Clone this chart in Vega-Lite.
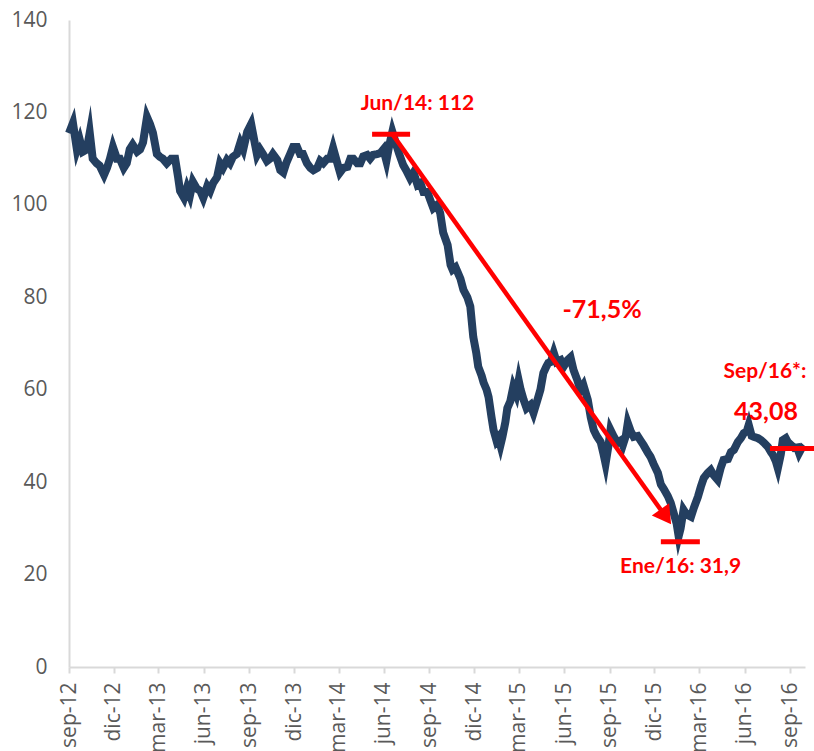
{
  "$schema": "https://vega.github.io/schema/vega-lite/v6.json",
  "width": 736,
  "height": 647,
  "autosize": {"type": "none"},
  "padding": {"left": 69, "top": 20, "right": 9, "bottom": 84},
  "background": "white",
  "config": {"view": {"stroke": null}, "font": "Open Sans"},
  "datasets": {
    "price": [
      {"date":"2012-09-01","v":115.5},{"date":"2012-09-09","v":117.7},{"date":"2012-09-17","v":112},{"date":"2012-09-23","v":114},{"date":"2012-09-29","v":111.5},
      {"date":"2012-10-07","v":112},{"date":"2012-10-13","v":115.6},{"date":"2012-10-19","v":110},{"date":"2012-10-27","v":109},{"date":"2012-11-02","v":108.5},
      {"date":"2012-11-11","v":106.5},{"date":"2012-11-17","v":108},{"date":"2012-11-23","v":110},{"date":"2012-11-29","v":112.5},{"date":"2012-12-07","v":110},
      {"date":"2012-12-13","v":110},{"date":"2012-12-21","v":108},{"date":"2012-12-27","v":109},{"date":"2013-01-02","v":112},{"date":"2013-01-08","v":113},
      {"date":"2013-01-17","v":111.5},{"date":"2013-01-23","v":112},{"date":"2013-01-29","v":113.5},{"date":"2013-02-06","v":119},{"date":"2013-02-12","v":117.5},
      {"date":"2013-02-18","v":115.6},{"date":"2013-02-26","v":111},{"date":"2013-03-04","v":110.4},{"date":"2013-03-10","v":110},{"date":"2013-03-18","v":109},
      {"date":"2013-03-27","v":110},{"date":"2013-04-04","v":110},{"date":"2013-04-10","v":106},{"date":"2013-04-14","v":103},{"date":"2013-04-22","v":101.5},
      {"date":"2013-04-28","v":103.7},{"date":"2013-05-04","v":102},{"date":"2013-05-10","v":105},{"date":"2013-05-18","v":103.5},{"date":"2013-05-25","v":103},
      {"date":"2013-05-31","v":101.5},{"date":"2013-06-08","v":104},{"date":"2013-06-14","v":103},{"date":"2013-06-20","v":104.7},{"date":"2013-06-28","v":106},
      {"date":"2013-07-04","v":109},{"date":"2013-07-10","v":108},{"date":"2013-07-18","v":109.7},{"date":"2013-07-24","v":109},{"date":"2013-07-30","v":110.4},
      {"date":"2013-08-07","v":111},{"date":"2013-08-14","v":113.4},{"date":"2013-08-20","v":112},{"date":"2013-08-28","v":115.8},{"date":"2013-09-05","v":117.5},
      {"date":"2013-09-13","v":113},{"date":"2013-09-17","v":110.8},{"date":"2013-09-23","v":112},{"date":"2013-09-29","v":111},{"date":"2013-10-07","v":109.5},
      {"date":"2013-10-13","v":110},{"date":"2013-10-19","v":111},{"date":"2013-10-28","v":109.7},{"date":"2013-11-03","v":107.5},{"date":"2013-11-09","v":107},
      {"date":"2013-11-15","v":109},{"date":"2013-11-23","v":111},{"date":"2013-11-29","v":112.5},{"date":"2013-12-07","v":112.5},{"date":"2013-12-13","v":111},
      {"date":"2013-12-19","v":111},{"date":"2013-12-27","v":109},{"date":"2014-01-03","v":108},{"date":"2014-01-09","v":107.5},{"date":"2014-01-17","v":108},
      {"date":"2014-01-23","v":109.5},{"date":"2014-01-29","v":109},{"date":"2014-02-06","v":110},{"date":"2014-02-12","v":110},{"date":"2014-02-18","v":112.3},
      {"date":"2014-02-24","v":110},{"date":"2014-03-04","v":107},{"date":"2014-03-11","v":108},{"date":"2014-03-19","v":108.2},{"date":"2014-03-25","v":110},
      {"date":"2014-03-31","v":110},{"date":"2014-04-08","v":109},{"date":"2014-04-14","v":109},{"date":"2014-04-20","v":110.5},{"date":"2014-04-28","v":110.8},
      {"date":"2014-05-04","v":110},{"date":"2014-05-10","v":110.8},{"date":"2014-05-18","v":111},{"date":"2014-05-25","v":111.2},{"date":"2014-05-31","v":112},
      {"date":"2014-06-06","v":109.5},{"date":"2014-06-12","v":113},{"date":"2014-06-18","v":115.8},{"date":"2014-06-26","v":113},{"date":"2014-07-02","v":111},
      {"date":"2014-07-10","v":108.6},{"date":"2014-07-16","v":107.5},{"date":"2014-07-24","v":105.8},{"date":"2014-07-31","v":107},{"date":"2014-08-08","v":104.3},
      {"date":"2014-08-14","v":104.7},{"date":"2014-08-20","v":102.8},{"date":"2014-08-28","v":102.8},{"date":"2014-09-03","v":101},{"date":"2014-09-09","v":99.3},
      {"date":"2014-09-17","v":100},{"date":"2014-09-23","v":98.2},{"date":"2014-09-29","v":94},{"date":"2014-10-08","v":91.3},{"date":"2014-10-14","v":87},
      {"date":"2014-10-18","v":86},{"date":"2014-10-24","v":86.5},{"date":"2014-10-28","v":85.5},{"date":"2014-11-03","v":84},{"date":"2014-11-09","v":81.6},
      {"date":"2014-11-17","v":80},{"date":"2014-11-23","v":78},{"date":"2014-11-29","v":71.4},{"date":"2014-12-05","v":68},{"date":"2014-12-09","v":65},
      {"date":"2014-12-16","v":63},{"date":"2014-12-20","v":61.5},{"date":"2014-12-26","v":60},{"date":"2014-12-30","v":58.4},{"date":"2015-01-05","v":54},
      {"date":"2015-01-09","v":51.3},{"date":"2015-01-15","v":49},{"date":"2015-01-19","v":49.6},{"date":"2015-01-23","v":48},{"date":"2015-01-27","v":49.8},
      {"date":"2015-02-02","v":53},{"date":"2015-02-06","v":56},{"date":"2015-02-12","v":57.5},{"date":"2015-02-18","v":60.6},{"date":"2015-02-24","v":59},
      {"date":"2015-03-01","v":62},{"date":"2015-03-05","v":60},{"date":"2015-03-11","v":57.8},{"date":"2015-03-17","v":56},{"date":"2015-03-25","v":56.7},
      {"date":"2015-03-31","v":55},{"date":"2015-04-08","v":57.8},{"date":"2015-04-14","v":60},{"date":"2015-04-20","v":63.6},{"date":"2015-04-26","v":65},
      {"date":"2015-04-30","v":65.8},{"date":"2015-05-05","v":66},{"date":"2015-05-11","v":68},{"date":"2015-05-17","v":66},{"date":"2015-05-25","v":66.4},
      {"date":"2015-05-31","v":65},{"date":"2015-06-08","v":66.4},{"date":"2015-06-14","v":67},{"date":"2015-06-20","v":64.3},{"date":"2015-06-28","v":62},
      {"date":"2015-07-04","v":60},{"date":"2015-07-10","v":61},{"date":"2015-07-19","v":57.8},{"date":"2015-07-25","v":54},{"date":"2015-07-31","v":51.3},
      {"date":"2015-08-06","v":50},{"date":"2015-08-14","v":48.7},{"date":"2015-08-20","v":46},{"date":"2015-08-24","v":44},{"date":"2015-08-30","v":48},
      {"date":"2015-09-03","v":51.3},{"date":"2015-09-09","v":50},{"date":"2015-09-17","v":48.5},{"date":"2015-09-24","v":49},{"date":"2015-09-28","v":48},
      {"date":"2015-10-04","v":50},{"date":"2015-10-08","v":52.8},{"date":"2015-10-14","v":51},{"date":"2015-10-20","v":49.8},{"date":"2015-10-28","v":50},
      {"date":"2015-11-03","v":49},{"date":"2015-11-09","v":48},{"date":"2015-11-17","v":46.5},{"date":"2015-11-23","v":45.5},{"date":"2015-11-29","v":44},
      {"date":"2015-12-08","v":42},{"date":"2015-12-14","v":39.5},{"date":"2015-12-20","v":38.5},{"date":"2015-12-28","v":37},{"date":"2016-01-03","v":35.5},
      {"date":"2016-01-09","v":33.3},{"date":"2016-01-15","v":31},{"date":"2016-01-19","v":28.3},{"date":"2016-01-23","v":30},{"date":"2016-01-29","v":34},
      {"date":"2016-02-04","v":33},{"date":"2016-02-13","v":32.5},{"date":"2016-02-19","v":34.5},{"date":"2016-02-27","v":36.8},{"date":"2016-03-04","v":39},
      {"date":"2016-03-10","v":40.9},{"date":"2016-03-18","v":42},{"date":"2016-03-24","v":42.6},{"date":"2016-03-30","v":41.5},{"date":"2016-04-07","v":40.5},
      {"date":"2016-04-13","v":43},{"date":"2016-04-19","v":44.8},{"date":"2016-04-28","v":45},{"date":"2016-05-04","v":46.5},{"date":"2016-05-10","v":47},
      {"date":"2016-05-18","v":48.7},{"date":"2016-05-24","v":49.5},{"date":"2016-05-30","v":50.6},{"date":"2016-06-05","v":51},{"date":"2016-06-09","v":52.4},
      {"date":"2016-06-15","v":50},{"date":"2016-06-19","v":49.8},{"date":"2016-06-28","v":49.5},{"date":"2016-07-04","v":49.1},{"date":"2016-07-10","v":48.5},
      {"date":"2016-07-18","v":47.6},{"date":"2016-07-24","v":46.5},{"date":"2016-07-28","v":45.9},{"date":"2016-08-03","v":44.5},{"date":"2016-08-07","v":43},
      {"date":"2016-08-13","v":46},{"date":"2016-08-17","v":49.1},{"date":"2016-08-23","v":49.5},{"date":"2016-08-27","v":48.7},{"date":"2016-09-03","v":48},
      {"date":"2016-09-09","v":47.4},{"date":"2016-09-15","v":47.5},{"date":"2016-09-19","v":46.3},{"date":"2016-09-25","v":47.5},{"date":"2016-09-29","v":48}
    ],
    "segs": [
      {"d1":"2014-05-08","d2":"2014-07-24","v":115.3},
      {"d1":"2015-12-14","d2":"2016-03-02","v":27.1},
      {"d1":"2016-07-22","d2":"2016-10-21","v":47.3}
    ],
    "arrow": [
      {"d1":"2014-06-18","v1":115.3,"d2":"2015-12-24","v2":32.5}
    ],
    "head": [
      {"date":"2015-12-24","v":32.5}
    ],
    "labelsSmall": [
      {"date":"2014-08-08","v":121.8,"t":"Jun/14: 112"},
      {"date":"2016-01-23","v":21.6,"t":"Ene/16: 31,9"},
      {"date":"2016-07-12","v":63.8,"t":"Sep/16*:"}
    ],
    "labelsBig": [
      {"date":"2015-08-17","v":77.3,"t":"-71,5%"},
      {"date":"2016-07-14","v":55.2,"t":"43,08"}
    ]
  },
  "layer": [
    {
      "data": {"name": "price"},
      "mark": {"type": "line", "color": "#243f60", "strokeWidth": 8, "strokeJoin": "miter", "strokeMiterLimit": 8},
      "encoding": {
        "x": {
          "field": "date", "type": "temporal", "title": null,
          "scale": {"type": "utc", "domain": [1346457600000, 1475280000000]},
          "axis": {
            "title": null, "grid": false,
            "values": [
              {"year":2012,"month":9,"date":1,"utc":true},{"year":2012,"month":12,"date":1,"utc":true},
              {"year":2013,"month":3,"date":1,"utc":true},{"year":2013,"month":6,"date":1,"utc":true},
              {"year":2013,"month":9,"date":1,"utc":true},{"year":2013,"month":12,"date":1,"utc":true},
              {"year":2014,"month":3,"date":1,"utc":true},{"year":2014,"month":6,"date":1,"utc":true},
              {"year":2014,"month":9,"date":1,"utc":true},{"year":2014,"month":12,"date":1,"utc":true},
              {"year":2015,"month":3,"date":1,"utc":true},{"year":2015,"month":6,"date":1,"utc":true},
              {"year":2015,"month":9,"date":1,"utc":true},{"year":2015,"month":12,"date":1,"utc":true},
              {"year":2016,"month":3,"date":1,"utc":true},{"year":2016,"month":6,"date":1,"utc":true},
              {"year":2016,"month":9,"date":1,"utc":true}
            ],
            "labelExpr": "['ene','feb','mar','abr','may','jun','jul','ago','sep','oct','nov','dic'][utcmonth(datum.value)] + '-' + utcFormat(datum.value, '%y')",
            "labelAngle": -90, "labelPadding": 9, "labelFont": "Open Sans", "labelFontSize": 21, "labelColor": "#595959",
            "labelOverlap": false, "labelFlush": false, "labelBound": false,
            "domainColor": "#d9d9d9", "domainWidth": 2, "tickColor": "#d9d9d9", "tickWidth": 2, "tickSize": 6
          }
        },
        "y": {
          "field": "v", "type": "quantitative", "title": null,
          "scale": {"domain": [0, 140], "nice": false},
          "axis": {
            "title": null, "grid": false, "ticks": false,
            "values": [0, 20, 40, 60, 80, 100, 120, 140],
            "labelPadding": 22, "labelFont": "Open Sans", "labelFontSize": 21, "labelColor": "#595959",
            "domainColor": "#d9d9d9", "domainWidth": 2
          }
        }
      }
    },
    {
      "data": {"name": "segs"},
      "mark": {"type": "rule", "color": "#ff0000", "strokeWidth": 5},
      "encoding": {
        "x": {"field": "d1", "type": "temporal", "title": null},
        "x2": {"field": "d2"},
        "y": {"field": "v", "type": "quantitative", "title": null}
      }
    },
    {
      "data": {"name": "arrow"},
      "mark": {"type": "rule", "color": "#ff0000", "strokeWidth": 4.5},
      "encoding": {
        "x": {"field": "d1", "type": "temporal", "title": null},
        "x2": {"field": "d2"},
        "y": {"field": "v1", "type": "quantitative", "title": null},
        "y2": {"field": "v2"}
      }
    },
    {
      "data": {"name": "head"},
      "mark": {"type": "point", "shape": "triangle-right", "filled": true, "color": "#ff0000", "opacity": 1, "size": 450, "angle": 54.7},
      "encoding": {
        "x": {"field": "date", "type": "temporal", "title": null},
        "y": {"field": "v", "type": "quantitative", "title": null}
      }
    },
    {
      "data": {"name": "labelsSmall"},
      "mark": {"type": "text", "font": "Lato", "fontWeight": "bold", "fontSize": 21, "color": "#ff0000", "align": "center", "baseline": "middle"},
      "encoding": {
        "x": {"field": "date", "type": "temporal", "title": null},
        "y": {"field": "v", "type": "quantitative", "title": null},
        "text": {"field": "t"}
      }
    },
    {
      "data": {"name": "labelsBig"},
      "mark": {"type": "text", "font": "Lato", "fontWeight": "bold", "fontSize": 25, "color": "#ff0000", "align": "center", "baseline": "middle"},
      "encoding": {
        "x": {"field": "date", "type": "temporal", "title": null},
        "y": {"field": "v", "type": "quantitative", "title": null},
        "text": {"field": "t"}
      }
    }
  ]
}
